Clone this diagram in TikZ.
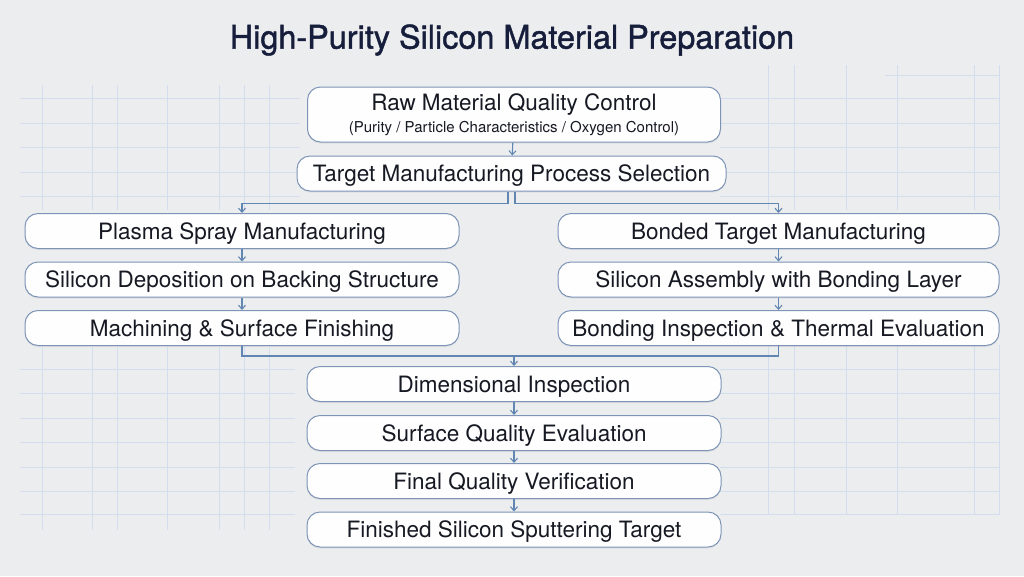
\documentclass[tikz,border=0pt]{standalone}
\usepackage{fontspec}
\setmainfont{TeX Gyre Heros}
\newfontfamily\titlefont[FakeBold=1.3]{TeX Gyre Heros}
\usetikzlibrary{arrows.meta,shadows}
\definecolor{bgc}{RGB}{236,237,239}
\definecolor{gridc}{RGB}{210,221,238}
\definecolor{boxline}{RGB}{125,148,182}
\definecolor{connc}{RGB}{98,134,178}
\definecolor{txtc}{RGB}{22,24,34}
\definecolor{titlec}{RGB}{22,30,60}
\tikzset{
  gridline/.style={draw=gridc, line width=0.7pt},
  stepbox/.style={draw=boxline, line width=1pt, fill=white!97!bgc, rounded corners=13pt,
    minimum height=35pt, inner sep=0pt, text=txtc, font=\fontsize{22.5}{25}\selectfont,
    drop shadow={opacity=0.12, shadow xshift=0pt, shadow yshift=-1.5pt}},
  onebox/.style={stepbox, text height=16pt, text depth=0pt},
  conn/.style={draw=connc, line width=1.1pt},
  arr/.style={conn, -{Straight Barb[length=4pt,width=7pt]}}
}
\begin{document}
\begin{tikzpicture}[x=1pt,y=-1pt]
\useasboundingbox (0,0) rectangle (1024,576);
\fill[bgc] (0,0) rectangle (1024,576);
% background grids
\foreach \yy in {98,123,147,172,196} {\draw[gridline] (20,\yy) -- (300,\yy); \draw[gridline] (720,\yy) -- (1000,\yy);}
\foreach \yy in {369,393,418,442,467,491,514} {\draw[gridline] (20,\yy) -- (295,\yy); \draw[gridline] (720,\yy) -- (1000,\yy);}
\draw[gridline] (885,75) -- (1000,75);
\foreach \xx in {42,92,117,167,219,244,269} {\draw[gridline] (\xx,85) -- (\xx,210); \draw[gridline] (\xx,347) -- (\xx,530);}
\foreach \xx in {768,794,846,897,974,999} {\draw[gridline] (\xx,65) -- (\xx,210); \draw[gridline] (\xx,345) -- (\xx,515);}

\node[text=titlec, font=\titlefont\fontsize{32.4}{35}\selectfont] (title) at (512,40) {High-Purity Silicon Material Preparation};

\node[stepbox, minimum width=413pt, minimum height=55pt, align=center] (raw) at (514,114.5)
  {Raw Material Quality Control\\[-3pt]{\fontsize{15}{18}\selectfont (Purity / Particle Characteristics / Oxygen Control)}};
\node[onebox, minimum width=429pt] (sel) at (511.5,173.5) {Target Manufacturing Process Selection};

\node[onebox, minimum width=434pt] (plasma) at (242,231) {Plasma Spray Manufacturing};
\node[onebox, minimum width=434pt] (dep) at (242,279.5) {Silicon Deposition on Backing Structure};
\node[onebox, minimum width=434pt] (mach) at (242,328) {Machining \& Surface Finishing};

\node[onebox, minimum width=441pt] (bonded) at (778.5,231) {Bonded Target Manufacturing};
\node[onebox, minimum width=441pt] (assem) at (778.5,279.5) {Silicon Assembly with Bonding Layer};
\node[onebox, minimum width=441pt] (binsp) at (778.5,328) {Bonding Inspection \& Thermal Evaluation};

\node[onebox, minimum width=414pt] (dim) at (514,384) {Dimensional Inspection};
\node[onebox, minimum width=414pt] (surf) at (514,433) {Surface Quality Evaluation};
\node[onebox, minimum width=414pt] (final) at (514,481) {Final Quality Verification};
\node[onebox, minimum width=414pt] (fin) at (514,529.5) {Finished Silicon Sputtering Target};

% connectors
\draw[arr] (raw) -- (sel);
\draw[arr] ([xshift=-3.5pt]sel.south) -- ++(0,12) -| (plasma.north);
\draw[arr] ([xshift=3.5pt]sel.south) -- ++(0,12) -| (bonded.north);
\draw[arr] (plasma) -- (dep);
\draw[arr] (dep) -- (mach);
\draw[arr] (bonded) -- (assem);
\draw[arr] (assem) -- (binsp);
\coordinate (merge) at (514,356);
\draw[conn] (mach.south) |- (merge) -| (binsp.south);
\draw[arr] (merge) -- (dim.north);
\draw[arr] (dim) -- (surf);
\draw[arr] (surf) -- (final);
\draw[arr] (final) -- (fin);
\end{tikzpicture}
\end{document}
